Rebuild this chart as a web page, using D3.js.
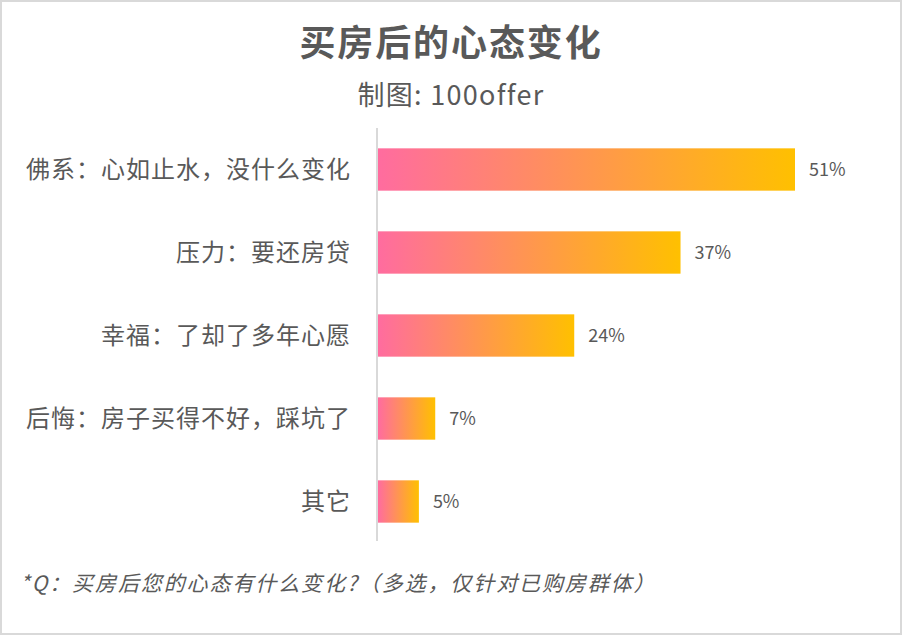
<!DOCTYPE html>
<html>
<head>
<meta charset="utf-8">
<script src="https://cdn.jsdelivr.net/npm/d3@7"></script>
<style>
  body { margin: 0; background: #fff; }
  text { font-family: "Noto Sans CJK SC", "Noto Sans", sans-serif; fill: #595959; }
</style>
</head>
<body>
<div id="root"></div>
<script>
// categories and share of answers (%)
const categories = ['佛系：心如止水，没什么变化', '压力：要还房贷', '幸福：了却了多年心愿', '后悔：房子买得不好，踩坑了', '其它'];
const values = [51, 37, 24, 7, 5];
const valueLabels = ['51%', '37%', '24%', '7%', '5%'];

const width = 902;
const height = 635;

const svg = d3.select('#root').append('svg')
  .attr('width', width)
  .attr('height', height);

// gradient from pink to amber, along each bar
const grad = svg.append('defs').append('linearGradient')
  .attr('id', 'barGrad')
  .attr('x1', '0').attr('x2', '1').attr('y1', '0').attr('y2', '0');
grad.append('stop').attr('offset', '0%').attr('stop-color', '#ff6c9f');
grad.append('stop').attr('offset', '100%').attr('stop-color', '#ffc000');

// outer frame
svg.append('rect')
  .attr('x', 1).attr('y', 1)
  .attr('width', width - 2).attr('height', height - 2)
  .attr('fill', 'none')
  .attr('stroke', '#d9d9d9')
  .attr('stroke-width', 2);

svg.append('text')
  .attr('x', 451).attr('y', 56)
  .attr('text-anchor', 'middle')
  .attr('font-size', 36)
  .attr('letter-spacing', 1.9)
  .attr('font-weight', 'bold')
  .text('买房后的心态变化');

svg.append('text')
  .attr('x', 451).attr('y', 105)
  .attr('text-anchor', 'middle')
  .attr('font-size', 27)
  .attr('letter-spacing', 1.3)
  .text('制图: 100offer');

const x0 = 378;
const xScale = d3.scaleLinear().domain([0, 51]).range([x0, 795]);
const yScale = d3.scaleBand()
  .domain(categories)
  .range([128, 543])
  .paddingInner(0.49)
  .paddingOuter(0.245);

svg.selectAll('rect.bar')
  .data(categories)
  .enter()
  .append('rect')
  .attr('class', 'bar')
  .attr('x', x0)
  .attr('y', d => yScale(d))
  .attr('width', (d, i) => xScale(values[i]) - x0)
  .attr('height', yScale.bandwidth())
  .attr('fill', 'url(#barGrad)');

// axis line
svg.append('line')
  .attr('x1', x0 - 1).attr('x2', x0 - 1)
  .attr('y1', 128).attr('y2', 541)
  .attr('stroke', '#d9d9d9')
  .attr('stroke-width', 2);

svg.selectAll('text.cat')
  .data(categories)
  .enter()
  .append('text')
  .attr('class', 'cat')
  .attr('x', 351)
  .attr('y', d => yScale(d) + yScale.bandwidth() / 2)
  .attr('dy', '0.36em')
  .attr('text-anchor', 'end')
  .attr('font-size', 24)
  .attr('letter-spacing', 1)
  .text(d => d);

svg.selectAll('text.val')
  .data(categories)
  .enter()
  .append('text')
  .attr('class', 'val')
  .attr('x', (d, i) => xScale(values[i]) + 14)
  .attr('y', d => yScale(d) + yScale.bandwidth() / 2)
  .attr('dy', '0.36em')
  .attr('font-size', 18)
  .text((d, i) => valueLabels[i]);

svg.append('text')
  .attr('x', 20).attr('y', 591)
  .attr('font-size', 21)
  .attr('letter-spacing', 1.9)
  .attr('font-style', 'italic')
  .text('*Q：买房后您的心态有什么变化?（多选，仅针对已购房群体）');
</script>
</body>
</html>
